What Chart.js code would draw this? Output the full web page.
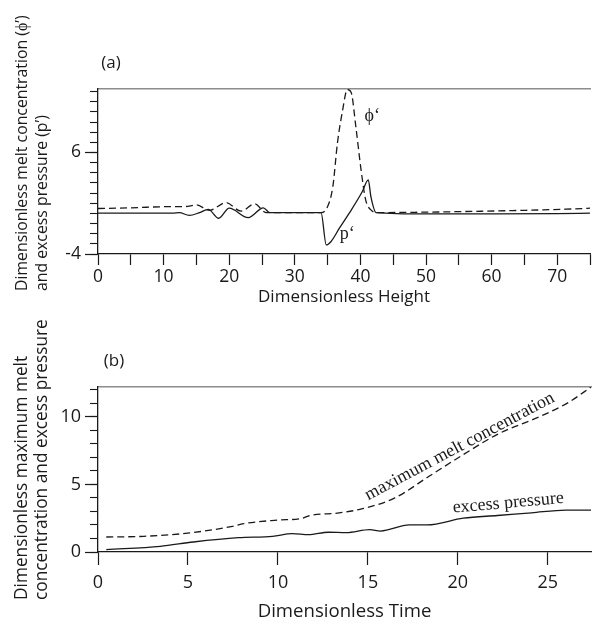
<!DOCTYPE html>
<html lang="en">
<head>
<meta charset="UTF-8">
<title>Melt concentration and excess pressure</title>
<script src="https://cdn.jsdelivr.net/npm/chart.js"></script>
<style>
    body { margin: 0; background: #ffffff; }
    .panel { position: absolute; left: 0; width: 592px; }
    #panelA { top: 0; height: 310px; }
    #panelB { top: 310px; height: 320px; }
</style>
</head>
<body>
<div class="panel" id="panelA"><canvas id="chartA"></canvas></div>
<div class="panel" id="panelB"><canvas id="chartB"></canvas></div>

<script>
// (a) profiles against dimensionless height
const heightPhi = [0, 5, 11.4, 13.2, 15.0, 17.0, 19.5, 21.8, 23.9, 25.6, 30, 34.0, 35.0, 35.8, 36.5, 37.3, 38.0, 38.6, 39.3, 40.1, 40.8, 41.6, 42.6, 50, 55.7, 65, 71.3, 75];
const phiValues = [0.48, 0.55, 0.67, 0.67, 0.83, 0.3, 1.06, 0.22, 0.94, 0.08, 0.08, 0.08, 0.67, 2.64, 6.93, 10.2, 12.2, 11.9, 8.57, 4.29, 1.33, 0.34, 0.08, 0.12, 0.18, 0.3, 0.41, 0.51];
const heightP = [0, 5, 11.4, 12.4, 13.9, 15.5, 16.8, 18.4, 20.0, 22.9, 25.2, 26.2, 30, 34.0, 34.8, 35.5, 36.8, 38.3, 40.3, 41.2, 41.6, 42.4, 50, 60, 70, 75];
const pValues = [0.02, 0.02, 0.02, 0.08, -0.2, 0.08, 0.4, -0.48, 0.51, -0.42, 0.55, 0.08, 0.08, 0.08, -3.11, -2.79, -1.46, 0.02, 2.15, 3.3, 1.66, 0.08, -0.05, -0.05, -0.02, 0.02];
const heightTickLabels = [0, 10, 20, 30, 40, 50, 60, 70];
const profileTickLabels = [-4, 6];

// (b) maxima against dimensionless time
const timeMelt = [0.46, 2.55, 5.1, 7.47, 8.1, 10.0, 11.3, 11.8, 13.4, 14.7, 16.5, 18.4, 20.3, 22.2, 24.7, 26.2, 27.4];
const maxMelt = [1.11, 1.16, 1.41, 1.9, 2.1, 2.36, 2.48, 2.7, 2.89, 3.2, 4.0, 5.6, 7.2, 8.7, 10.1, 11.1, 12.2];
const timePressure = [0.46, 3.46, 5.3, 7.8, 9.7, 10.8, 11.7, 12.8, 13.8, 15.1, 15.7, 17.3, 18.3, 20.3, 22.2, 24.1, 26.0, 27.4];
const maxPressure = [0.17, 0.42, 0.74, 1.06, 1.16, 1.36, 1.28, 1.46, 1.43, 1.65, 1.55, 2.0, 2.0, 2.5, 2.7, 2.9, 3.1, 3.1];
const timeTickLabels = [0, 5, 10, 15, 20, 25];
const maxTickLabels = [0, 5, 10];

const ink = '#1a1a1a';
Chart.defaults.font.family = '"Open Sans", sans-serif';
Chart.defaults.color = ink;

const toPoints = (xs, ys) => xs.map((x, i) => ({ x: x, y: ys[i] }));

function lineSet(label, xs, ys, dashed) {
    return {
        label: label,
        data: toPoints(xs, ys),
        borderColor: ink,
        borderWidth: 1.3,
        borderDash: dashed ? [7, 4] : [],
        pointRadius: 0,
        cubicInterpolationMode: 'monotone',
        fill: false
    };
}

// y axis titles, panel letter and curve labels
function makeTextPlugin(cfg) {
    return {
        id: 'panelText',
        afterDraw(chart) {
            const ctx = chart.ctx;
            ctx.save();
            ctx.fillStyle = ink;
            ctx.textBaseline = 'middle';
            ctx.textAlign = 'center';
            ctx.font = '17px "Open Sans"';
            ctx.fillText(cfg.letter, cfg.letterX, cfg.letterY);

            ctx.font = cfg.yTitleSize + 'px "Open Sans"';
            ctx.textAlign = 'left';
            cfg.yTitle.forEach((line, i) => {
                ctx.save();
                ctx.translate(cfg.yTitleX + i * 20, cfg.yTitleY);
                ctx.rotate(-Math.PI / 2);
                ctx.fillText(line, 0, 0);
                ctx.restore();
            });

            const xs = chart.scales.x, ys = chart.scales.y;
            ctx.font = '18px "Liberation Serif", serif';
            ctx.textAlign = 'center';
            cfg.notes.forEach(n => {
                ctx.save();
                ctx.translate(xs.getPixelForValue(n.x), ys.getPixelForValue(n.y));
                ctx.rotate(n.angle * Math.PI / 180);
                ctx.fillText(n.text, 0, 0);
                ctx.restore();
            });
            ctx.restore();
        }
    };
}

function buildScales(o) {
    return {
        x: {
            type: 'linear', min: o.xMin, max: o.xMax,
            afterFit: s => { s.height = o.xHeight; },
            ticks: {
                stepSize: 5, autoSkip: false, maxRotation: 0, includeBounds: false,
                padding: o.xLabelPad, font: { size: o.tickSize },
                callback: v => o.xLabels.includes(v) ? String(v) : ''
            },
            grid: { drawOnChartArea: false, tickLength: o.xTickLen, tickColor: ink, tickWidth: 1.2 },
            border: { color: ink, width: 1.3 },
            title: { display: true, text: o.xTitle, font: { size: o.titleSize }, padding: { top: 0, bottom: o.xTitlePad } }
        },
        xTop: {
            type: 'linear', position: 'top', min: o.xMin, max: o.xMax,
            afterFit: s => { s.height = 0; },
            ticks: { display: false },
            grid: { display: false },
            border: { color: '#8c8c8c', width: 1.6 }
        },
        y: {
            type: 'linear', position: 'left', min: o.yMin, max: o.yMax, weight: 5,
            afterFit: s => { s.width = 98; },
            afterBuildTicks: s => { s.ticks = s.ticks.filter(t => o.yLabels.includes(t.value)); },
            ticks: { stepSize: 1, autoSkip: false, includeBounds: false, padding: 4, font: { size: o.tickSize },
                     callback: v => String(v) },
            grid: { drawOnChartArea: false, tickLength: 13, tickColor: ink, tickWidth: 1.2 },
            border: { color: ink, width: 1.3 }
        },
        yMinor: {
            type: 'linear', position: 'left', min: o.yMin, max: o.yMax, weight: 0,
            afterFit: s => { s.width = 0; },
            ticks: { display: false, stepSize: 1, autoSkip: false, includeBounds: false },
            grid: { drawOnChartArea: false, tickLength: 8, tickColor: ink, tickWidth: 1.1 },
            border: { display: false }
        }
    };
}

new Chart(document.getElementById('chartA'), {
    type: 'line',
    data: {
        datasets: [
            lineSet('φ′', heightPhi, phiValues, true),
            lineSet('p′', heightP, pValues, false)
        ]
    },
    options: {
        responsive: true,
        maintainAspectRatio: false,
        animation: false,
        layout: { padding: { top: 89, right: 1, left: 0, bottom: 0 } },
        plugins: { legend: { display: false }, tooltip: { enabled: false } },
        scales: buildScales({
            xMin: 0, xMax: 75, xHeight: 56, xLabelPad: 2, xTickLen: 11, xTitlePad: 3,
            xLabels: heightTickLabels, xTitle: 'Dimensionless Height', tickSize: 17.5, titleSize: 17,
            yMin: -4, yMax: 12.25, yLabels: profileTickLabels
        })
    },
    plugins: [makeTextPlugin({
        letter: '(a)', letterX: 111, letterY: 63,
        yTitle: ['Dimensionless melt concentration (ϕ\u2019)', 'and excess pressure (p\u2019)'],
        yTitleX: 22, yTitleY: 291, yTitleSize: 15.8,
        notes: [
            { text: 'ϕ\u2018', x: 41.8, y: 9.55, angle: 0 },
            { text: 'p\u2018', x: 38.0, y: -2.1, angle: 0 }
        ]
    })]
});

new Chart(document.getElementById('chartB'), {
    type: 'line',
    data: {
        datasets: [
            lineSet('maximum melt concentration', timeMelt, maxMelt, true),
            lineSet('excess pressure', timePressure, maxPressure, false)
        ]
    },
    options: {
        responsive: true,
        maintainAspectRatio: false,
        animation: false,
        layout: { padding: { top: 77, right: 1, left: 0, bottom: 0 } },
        plugins: { legend: { display: false }, tooltip: { enabled: false } },
        scales: buildScales({
            xMin: 0, xMax: 27.4, xHeight: 78, xLabelPad: 7, xTickLen: 13, xTitlePad: 7,
            xLabels: timeTickLabels, xTitle: 'Dimensionless Time', tickSize: 18, titleSize: 18.6,
            yMin: 0, yMax: 12.2, yLabels: maxTickLabels
        })
    },
    plugins: [makeTextPlugin({
        letter: '(b)', letterX: 114, letterY: 51,
        yTitle: ['Dimensionless maximum melt', 'concentration and excess pressure'],
        yTitleX: 22, yTitleY: 290, yTitleSize: 17.3,
        notes: [
            { text: 'maximum melt concentration', x: 20.1, y: 7.8, angle: -28 },
            { text: 'excess pressure', x: 22.8, y: 3.62, angle: -5 }
        ]
    })]
});
</script>
</body>
</html>
